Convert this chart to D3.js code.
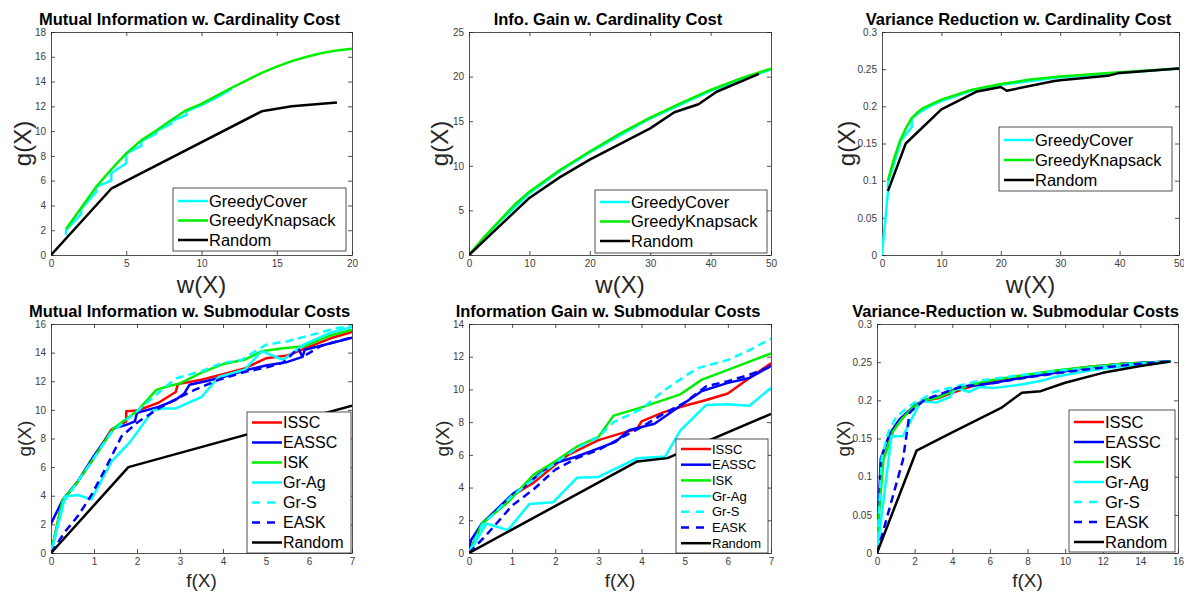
<!DOCTYPE html>
<html>
<head>
<meta charset="utf-8">
<script src="https://cdn.jsdelivr.net/npm/d3@7"></script>
<style>
  body { margin: 0; background: #fff; }
  svg { display: block; }
</style>
</head>
<body>
<svg id="chart" width="1184" height="593"></svg>
<script>
// ---- data ----
// top row: cardinality cost, x = w(X)
const miCardGreedyCover = [[1,1.6],[1,2.0],[2,3.3],[2,3.7],[3,5.1],[3,5.5],[4,6.0],[4,6.6],[5,7.4],[5,8.2],[6,8.8],[6,9.2],[7,9.8],[7,10.0],[8,10.6],[8,10.8],[9,11.3],[9,11.6],[10,12.1],[11,12.7],[12,13.4]]
const miCardGreedyKnapsack = [[1,2.1],[2,3.8],[3,5.5],[4,6.9],[5,8.2],[6,9.25],[7,10.05],[8,10.9],[9,11.7],[10,12.2],[11,12.85],[12,13.5],[13,14.1],[14,14.7],[15,15.2],[16,15.65],[17,16.0],[18,16.3],[19,16.5],[20,16.65]]
const miCardRandom = [[0,0],[4,5.35],[14,11.6],[16,12.0],[19,12.3]]

const igCardGreedyCover = [[0,0],[5,3.7],[10,6.9],[15,9.4],[20,11.5],[30,15.3],[40,18.4],[50,20.8]]
const igCardGreedyKnapsack = [[0,0],[2.5,2.0],[5,3.8],[7.5,5.6],[10,7.1],[15,9.5],[20,11.6],[25,13.6],[30,15.4],[35,17.0],[40,18.5],[45,19.8],[50,20.9]]
const igCardRandom = [[0,0],[5,3.2],[10,6.4],[15,8.7],[20,10.7],[22,11.4],[26,12.8],[30,14.2],[34,16.0],[38,16.9],[41,18.3],[48,20.3]]

const vrCardGreedyCover = [[0,0],[1,0.085],[1,0.097],[3,0.148],[3,0.152],[5,0.172],[5,0.184],[6,0.19],[8,0.2],[10,0.207],[15,0.221],[20,0.229],[30,0.239],[40,0.245],[50,0.251]]
const vrCardGreedyKnapsack = [[1,0.1],[2,0.129],[3,0.153],[4,0.17],[5,0.184],[6,0.192],[7,0.198],[10,0.209],[15,0.222],[20,0.23],[25,0.236],[30,0.24],[40,0.246],[50,0.251]]
const vrCardRandom = [[1,0.086],[4,0.15],[10,0.196],[16,0.22],[20,0.226],[21,0.221],[29,0.234],[30,0.235],[38,0.241],[40,0.245],[50,0.251]]

// bottom row: submodular costs, x = f(X)
const miSubISSC = [[0,0],[0.27,3.7],[0.6,4.9],[0.9,6.2],[1.4,8.6],[1.75,9.2],[1.75,9.9],[2.0,9.95],[2.5,10.5],[2.9,11.25],[2.95,11.8],[3.5,12.1],[4.0,12.5],[4.5,12.9],[5.0,13.6],[5.5,13.8],[6.0,14.4],[6.5,15.0],[7,15.45]]
const miSubEASSC = [[0,2.05],[0.27,3.7],[0.6,4.9],[1.0,6.8],[1.45,8.7],[1.75,8.95],[1.95,9.2],[2.0,9.8],[2.5,10.2],[2.9,10.7],[3.1,11.15],[3.22,11.75],[3.6,12.0],[4.0,12.3],[4.5,12.75],[5.0,13.1],[5.5,13.35],[5.85,13.7],[5.9,14.2],[6.3,14.5],[7,15.05]]
const miSubISK = [[0,0],[0.27,3.7],[0.6,4.9],[0.9,6.2],[1.45,8.7],[2.0,9.9],[2.45,11.4],[2.72,11.65],[3.0,11.85],[3.5,12.6],[4.0,13.2],[4.5,13.5],[4.9,14.1],[5.4,14.3],[5.9,14.45],[6.5,15.2],[7,15.6]]
const miSubGrAg = [[0,0],[0.33,3.95],[0.63,4.05],[0.94,3.75],[1.41,6.4],[1.85,7.8],[2.37,9.95],[2.6,10.1],[2.9,10.1],[3.5,10.9],[3.9,12.3],[4.5,12.8],[4.9,14.1],[5.4,13.5],[5.9,14.6],[6.5,15.4],[7,15.8]]
const miSubGrS = [[0,0],[0.3,3.6],[0.9,6.2],[1.4,8.4],[2.0,9.9],[2.5,11.2],[2.9,12.2],[3.5,12.7],[4.0,13.3],[4.4,13.45],[5.0,14.55],[5.5,14.8],[6.2,15.35],[6.6,15.7],[7,15.85]]
const miSubEASK = [[0,0],[0.33,1.5],[0.63,2.6],[0.94,4.05],[1.25,5.8],[1.64,8.15],[2.0,9.1],[2.5,10.1],[3.0,10.9],[3.34,11.4],[3.9,12.1],[4.5,12.65],[5.0,12.95],[5.4,13.3],[5.75,14.3],[5.85,13.7],[6.3,14.5],[7,15.05]]
const miSubRandom = [[0,0],[1.8,6.0],[7,10.3]]

const igSubISSC = [[0,0],[0.3,1.8],[1.0,3.5],[1.5,4.3],[2.0,5.4],[2.3,6.0],[3.0,6.9],[3.5,7.3],[3.9,7.6],[4.0,8.05],[4.5,8.6],[5.0,9.0],[5.5,9.35],[6.0,9.75],[6.5,10.7],[7,11.6]]
const igSubEASSC = [[0,0.3],[0.05,0.8],[0.3,1.8],[1.03,3.65],[1.3,4.1],[1.7,5.0],[2.0,5.5],[2.5,5.9],[3.0,6.4],[3.4,6.8],[3.7,7.5],[4.0,7.7],[4.3,7.9],[4.9,9.0],[5.4,9.9],[6.0,10.4],[6.5,10.7],[7,11.45]]
const igSubISK = [[0,0],[0.3,1.8],[0.9,3.1],[1.5,4.8],[2.0,5.6],[2.5,6.5],[3.0,7.1],[3.35,8.4],[4.0,8.9],[4.9,9.7],[5.4,10.6],[6.0,11.2],[6.5,11.7],[7,12.2]]
const igSubGrAg = [[0,0],[0.4,1.8],[0.9,1.4],[1.4,3.0],[1.95,3.1],[2.5,4.6],[3.0,4.65],[3.9,5.8],[4.55,5.9],[4.9,7.5],[5.5,9.05],[6.0,9.1],[6.5,9.0],[7,10.1]]
const igSubGrS = [[0,0],[0.3,1.7],[1.0,3.5],[1.5,4.5],[2.0,5.5],[2.5,6.4],[3.0,7.1],[3.35,8.0],[4.0,8.8],[4.5,9.9],[5.0,10.8],[5.3,11.3],[6.0,11.8],[6.5,12.4],[7,13.1]]
const igSubEASK = [[0,0],[0.37,1.0],[1.0,2.9],[1.5,3.9],[2.0,5.1],[2.5,5.8],[3.0,6.3],[3.5,7.0],[4.0,7.7],[4.5,8.5],[5.0,9.2],[5.5,10.2],[6.0,10.5],[6.5,10.9],[7,11.4]]
const igSubRandom = [[0,0],[3.9,5.6],[4.6,5.8],[7,8.5]]

const vrSubISSC = [[0,0],[0.23,0.124],[0.67,0.155],[1.2,0.175],[2.0,0.192],[2.45,0.199],[3.3,0.203],[4.0,0.21],[5.0,0.218],[6.0,0.224],[7.8,0.232],[9.5,0.238],[11.3,0.244],[13.1,0.248],[15.6,0.251]]
const vrSubEASSC = [[0,0],[0.2,0.124],[0.67,0.156],[1.2,0.175],[2.0,0.193],[2.45,0.2],[3.3,0.205],[4.0,0.213],[4.7,0.218],[6.0,0.222],[7.8,0.23],[9.5,0.236],[11.3,0.243],[13.1,0.248],[15.6,0.251]]
const vrSubISK = [[0,0],[0.1,0.05],[0.34,0.122],[0.87,0.16],[1.3,0.175],[1.93,0.191],[2.46,0.2],[3.3,0.204],[4.0,0.212],[5.0,0.22],[6.0,0.226],[7.8,0.233],[9.5,0.239],[11.3,0.244],[13.1,0.248],[15.6,0.251]]
const vrSubGrAg = [[0,0],[0.77,0.153],[1.38,0.153],[1.91,0.179],[2.36,0.2],[2.6,0.198],[3.15,0.197],[3.86,0.204],[4.2,0.216],[4.9,0.211],[5.45,0.2175],[6.17,0.216],[7.76,0.221],[8.8,0.226],[9.5,0.231],[11.3,0.239],[13.1,0.2445],[15.6,0.251]]
const vrSubGrS = [[0,0],[0.25,0.125],[0.6,0.158],[1.0,0.177],[1.3,0.184],[2.0,0.197],[2.5,0.203],[2.9,0.21],[3.5,0.214],[4.5,0.22],[5.5,0.226],[7,0.231],[9,0.237],[11,0.242],[13,0.247],[15.6,0.251]]
const vrSubEASK = [[0,0],[0.32,0.028],[1.38,0.122],[1.74,0.184],[2.0,0.19],[2.5,0.2],[3.0,0.205],[4.0,0.214],[4.5,0.218],[6.0,0.222],[8,0.23],[10,0.237],[12,0.243],[14,0.248],[15.6,0.251]]
const vrSubRandom = [[0,0],[2.1,0.134],[4.0,0.158],[6.6,0.19],[7.7,0.21],[8.7,0.212],[10,0.223],[12,0.236],[14,0.245],[15.6,0.251]]

// tick values
const ticks0to20 = [0,5,10,15,20]
const ticks0to50 = [0,10,20,30,40,50]
const ticks0to7 = [0,1,2,3,4,5,6,7]
const ticks0to16by2 = [0,2,4,6,8,10,12,14,16]
const ticks0to18by2 = [0,2,4,6,8,10,12,14,16,18]
const ticks0to14by2 = [0,2,4,6,8,10,12,14]
const ticks0to25by5 = [0,5,10,15,20,25]
const ticksVar = [0,0.05,0.1,0.15,0.2,0.25,0.3]

const topNames = ["GreedyCover", "GreedyKnapsack", "Random"]
const bottomNames = ["ISSC", "EASSC", "ISK", "Gr-Ag", "Gr-S", "EASK", "Random"]

const titles = [
  "Mutual Information w. Cardinality Cost",
  "Info. Gain w. Cardinality Cost",
  "Variance Reduction w. Cardinality Cost",
  "Mutual Information w. Submodular Costs",
  "Information Gain w. Submodular Costs",
  "Variance-Reduction w. Submodular Costs"
]

// ---- styles ----
const FONT = "'Liberation Sans', Arial, Helvetica, sans-serif"
const CYAN = "#00ffff", GREEN = "#00ee00", RED = "#ff0000", BLUE = "#0000ff", BLACK = "#000000"
const topStyles = [{color: CYAN}, {color: GREEN}, {color: BLACK}]
const bottomStyles = [
  {color: RED}, {color: BLUE}, {color: GREEN}, {color: CYAN},
  {color: CYAN, dash: true}, {color: BLUE, dash: true}, {color: BLACK}
]

function makeSeries(names, styles, values) {
  return names.map((name, i) => ({name, values: values[i], ...styles[i]}))
}

const panels = [
  {
    box: [51, 352, 32, 255], xDomain: [0, 20], yDomain: [0, 18],
    xTicks: ticks0to20, yTicks: ticks0to18by2, xLabel: "w(X)",
    series: makeSeries(topNames, topStyles, [miCardGreedyCover, miCardGreedyKnapsack, miCardRandom]),
    legend: {x: 173, y: 188, w: 173, h: 63, row0: 201, step: 19.5, font: 16.5}
  },
  {
    box: [469, 771, 32, 255], xDomain: [0, 50], yDomain: [0, 25],
    xTicks: ticks0to50, yTicks: ticks0to25by5, xLabel: "w(X)",
    series: makeSeries(topNames, topStyles, [igCardGreedyCover, igCardGreedyKnapsack, igCardRandom]),
    legend: {x: 595, y: 190, w: 172, h: 63, row0: 202, step: 19.5, font: 16.5}
  },
  {
    box: [882, 1179, 32, 255], xDomain: [0, 50], yDomain: [0, 0.3],
    xTicks: ticks0to50, yTicks: ticksVar, xLabel: "w(X)",
    series: makeSeries(topNames, topStyles, [vrCardGreedyCover, vrCardGreedyKnapsack, vrCardRandom]),
    legend: {x: 999, y: 127, w: 173, h: 64, row0: 140, step: 20, font: 16.5}
  },
  {
    box: [51, 352, 324, 553], xDomain: [0, 7], yDomain: [0, 16],
    xTicks: ticks0to7, yTicks: ticks0to16by2, xLabel: "f(X)",
    series: makeSeries(bottomNames, bottomStyles, [miSubISSC, miSubEASSC, miSubISK, miSubGrAg, miSubGrS, miSubEASK, miSubRandom]),
    legend: {x: 247, y: 412, w: 104, h: 141, row0: 422.5, step: 20, font: 16}
  },
  {
    box: [469, 771, 324, 553], xDomain: [0, 7], yDomain: [0, 14],
    xTicks: ticks0to7, yTicks: ticks0to14by2, xLabel: "f(X)",
    series: makeSeries(bottomNames, bottomStyles, [igSubISSC, igSubEASSC, igSubISK, igSubGrAg, igSubGrS, igSubEASK, igSubRandom]),
    legend: {x: 676, y: 439, w: 92, h: 114, row0: 449, step: 15.7, font: 13}
  },
  {
    box: [877, 1178, 324, 553], xDomain: [0, 16], yDomain: [0, 0.3],
    xTicks: ticks0to16by2, yTicks: ticksVar, xLabel: "f(X)",
    series: makeSeries(bottomNames, bottomStyles, [vrSubISSC, vrSubEASSC, vrSubISK, vrSubGrAg, vrSubGrS, vrSubEASK, vrSubRandom]),
    legend: {x: 1069, y: 410, w: 106, h: 142, row0: 422, step: 20, font: 16.5}
  }
]

const svg = d3.select("#chart").attr("font-family", FONT)
const defs = svg.append("defs")

function styleAxis(g) {
  g.select(".domain").attr("stroke", "#262626").attr("stroke-width", 0.8)
  g.selectAll(".tick line").attr("stroke", "#262626").attr("stroke-width", 0.8)
  g.selectAll(".tick text").attr("fill", "#404040").attr("font-size", 10).attr("font-family", FONT)
}

panels.forEach((p, i) => {
  const [left, right, top, bottom] = p.box
  const top_row = i < 3
  const x = d3.scaleLinear().domain(p.xDomain).range([left, right])
  const y = d3.scaleLinear().domain(p.yDomain).range([bottom, top])
  const g = svg.append("g")

  defs.append("clipPath").attr("id", "clip" + i)
    .append("rect")
    .attr("x", left).attr("y", top)
    .attr("width", right - left).attr("height", bottom - top)

  // axes box with inward ticks on all four sides
  g.append("g").attr("transform", `translate(0,${bottom})`)
    .call(d3.axisBottom(x).tickValues(p.xTicks).tickSize(-4).tickSizeOuter(0).tickPadding(5).tickFormat(d3.format("")))
    .call(styleAxis)
  g.append("g").attr("transform", `translate(0,${top})`)
    .call(d3.axisTop(x).tickValues(p.xTicks).tickSize(-4).tickSizeOuter(0).tickFormat(""))
    .call(styleAxis)
  g.append("g").attr("transform", `translate(${left},0)`)
    .call(d3.axisLeft(y).tickValues(p.yTicks).tickSize(-4).tickSizeOuter(0).tickPadding(5).tickFormat(d3.format("")))
    .call(styleAxis)
  g.append("g").attr("transform", `translate(${right},0)`)
    .call(d3.axisRight(y).tickValues(p.yTicks).tickSize(-4).tickSizeOuter(0).tickFormat(""))
    .call(styleAxis)

  const line = d3.line().x(d => x(d[0])).y(d => y(d[1]))

  g.append("g")
    .attr("clip-path", `url(#clip${i})`)
    .selectAll("path")
    .data(p.series)
    .join("path")
    .attr("d", s => line(s.values))
    .attr("fill", "none")
    .attr("stroke", s => s.color)
    .attr("stroke-width", 2.5)
    .attr("stroke-linejoin", "round")
    .attr("stroke-dasharray", s => s.dash ? "8,5" : null)

  // title
  g.append("text")
    .attr("x", (left + right) / 2 - 12)
    .attr("y", top_row ? 25 : 317)
    .attr("text-anchor", "middle")
    .attr("font-weight", "bold")
    .attr("font-size", 16.5)
    .attr("fill", "#000")
    .text(titles[i])

  // axis labels
  const labelSize = top_row ? 24 : 19
  g.append("text")
    .attr("x", (left + right) / 2)
    .attr("y", top_row ? 293 : 587)
    .attr("text-anchor", "middle")
    .attr("font-size", labelSize)
    .attr("fill", "#262626")
    .text(p.xLabel)

  const yLabelX = [30.5, 447.5, 855, 31, 449, 850][i]
  g.append("text")
    .attr("transform", `translate(${yLabelX},${(top + bottom) / 2}) rotate(-90)`)
    .attr("text-anchor", "middle")
    .attr("font-size", labelSize)
    .attr("fill", "#262626")
    .text("g(X)")

  // legend
  const L = p.legend
  const lg = g.append("g")
  lg.append("rect")
    .attr("x", L.x).attr("y", L.y).attr("width", L.w).attr("height", L.h)
    .attr("fill", "#fff").attr("stroke", "#262626").attr("stroke-width", 0.8)
  const rows = lg.selectAll("g.row")
    .data(p.series)
    .join("g")
    .attr("class", "row")
    .attr("transform", (s, k) => `translate(${L.x},${L.row0 + k * L.step})`)
  rows.append("line")
    .attr("x1", 5).attr("x2", 35).attr("y1", 0).attr("y2", 0)
    .attr("stroke", s => s.color)
    .attr("stroke-width", 2.5)
    .attr("stroke-dasharray", s => s.dash ? "8,7" : null)
  rows.append("text")
    .attr("x", 36)
    .attr("dy", "0.36em")
    .attr("font-size", L.font)
    .attr("fill", "#000")
    .text(s => s.name)
})
</script>
</body>
</html>
